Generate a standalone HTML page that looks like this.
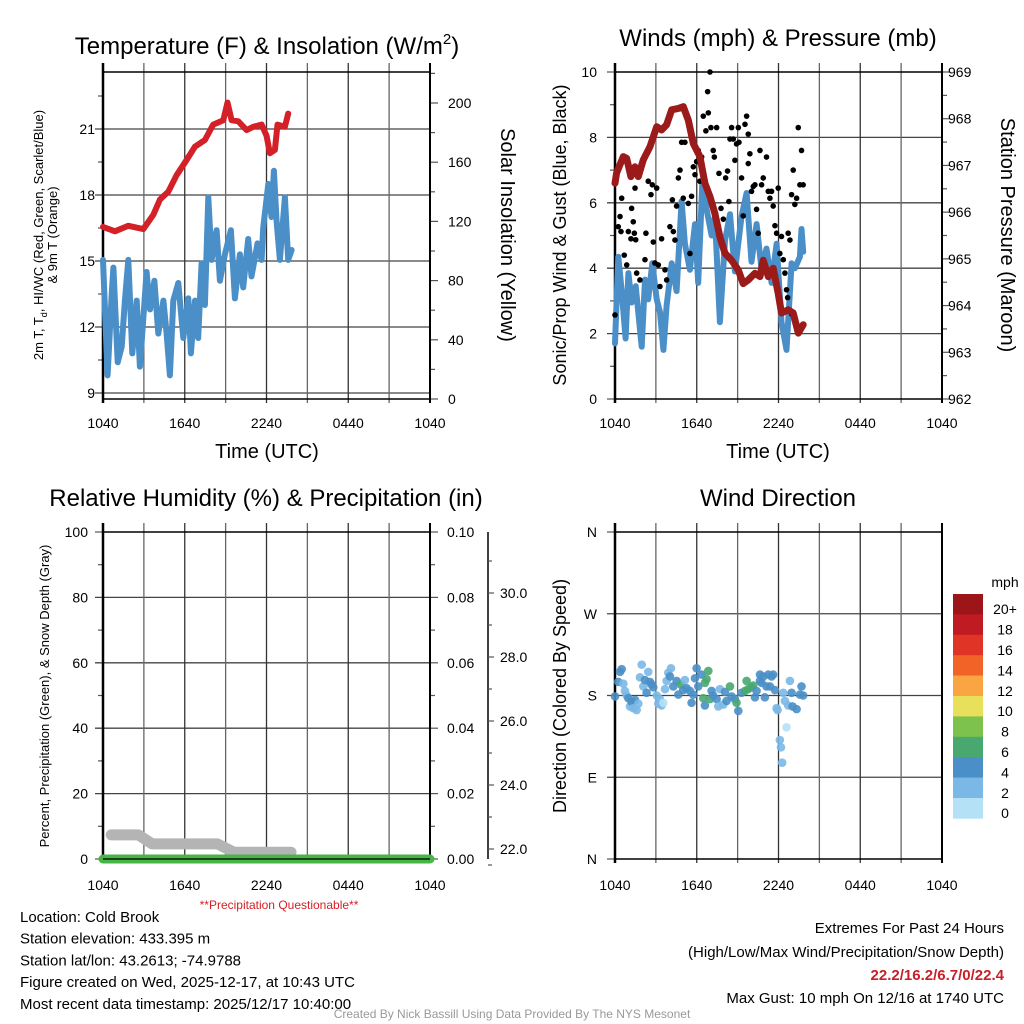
<!DOCTYPE html>
<html><head><meta charset="utf-8">
<style>
html,body{margin:0;padding:0;background:#fff;}
svg{display:block;font-family:"Liberation Sans",Arial,sans-serif;}
</style></head>
<body>
<svg id="c" width="1024" height="1024" viewBox="0 0 1024 1024" xmlns="http://www.w3.org/2000/svg">
<g id="g"></g>
</svg>
<script>
// ---------- DATA ----------
const tempBlueHours=[0,0.34,0.64,0.76,1.08,1.37,1.61,1.86,2.15,2.47,2.71,3.2,3.45,3.77,4.06,4.43,4.67,4.91,5.16,5.53,5.89,6.26,6.45,6.75,6.99,7.24,7.48,7.73,7.97,8.34,8.58,8.95,9.39,9.68,10.05,10.29,10.66,10.9,11.34,11.64,11.76,12.13,12.37,12.54,12.74,12.98,13.35,13.59,13.84];
const tempBlueValues=[15.05,9.8,13.5,14.7,10.4,11.1,13.2,15.05,10.8,13.2,10.2,14.5,12.8,14.1,11.7,13.2,11.7,9.8,13.2,14.0,11.5,13.3,10.8,13.2,11.5,14.9,13.0,17.9,15.05,16.4,14.1,15.3,16.4,13.3,15.3,13.8,16.0,14.3,15.8,15.05,16.5,18.5,17.0,19.1,16.8,15.05,17.9,15.05,15.5];
const tempRedHours=[0,0.88,1.86,2.96,3.69,4.18,4.79,5.4,6.14,6.75,7.48,8.09,8.83,9.14,9.44,9.93,10.54,11.03,11.64,12.0,12.25,12.62,12.81,13.35,13.59];
const tempRedValues=[16.55,16.35,16.6,16.45,17.1,17.8,18.15,18.9,19.6,20.2,20.5,21.2,21.4,22.2,21.4,21.35,20.95,21.1,21.2,20.7,19.9,20.05,21.2,21.1,21.7];
const tempTicks=[9,12,15,18,21];
const solarTicks=[0,40,80,120,160,200];
const timeTickLabels=["1040","1640","2240","0440","1040"];
const windHours=[0,0.24,0.49,0.78,0.98,1.22,1.52,1.96,2.2,2.44,2.74,3.06,3.3,3.55,3.79,4.16,4.52,4.89,5.13,5.5,5.87,6.11,6.41,6.72,7.09,7.33,7.7,8.07,8.44,8.8,9.29,9.66,10.02,10.39,10.76,11.12,11.49,11.86,12.22,12.59,12.96,13.2,13.57,13.69,13.81];
const windValues=[1.7,4.35,3.3,1.85,3.85,2.95,3.45,1.6,3.65,3.05,4.15,3.05,2.65,1.5,2.85,4.15,3.3,6.05,4.75,3.95,5.35,3.55,6.6,5.8,5.0,5.6,2.35,4.85,5.65,3.9,5.6,6.3,4.2,5.35,3.95,4.6,3.55,4.75,2.35,1.5,4.15,4.0,4.35,5.2,4.5];
const gustHours=[0,0.49,0.24,0.37,0.44,0.68,0.86,0.98,1.17,1.22,1.34,1.42,1.52,1.47,1.59,1.83,2.2,2.27,2.44,2.64,2.74,2.81,2.93,3.06,3.18,3.3,3.42,3.67,3.79,4.03,4.21,4.28,4.4,4.52,4.65,4.77,4.89,5.01,5.13,5.38,5.5,5.62,5.75,5.87,5.99,6.11,6.23,6.36,6.48,6.67,6.8,6.85,6.97,7.04,7.21,7.29,7.46,7.63,7.78,7.95,8.12,8.26,8.36,8.44,8.56,8.68,8.8,8.92,9.05,9.1,9.29,9.41,9.54,9.66,9.78,9.78,9.9,10.02,10.15,10.27,10.39,10.51,10.64,10.76,10.88,11.12,11.25,11.37,11.49,11.61,11.74,11.86,11.98,12.1,12.22,12.35,12.47,12.59,12.71,12.84,12.96,13.08,13.2,13.33,13.45,13.57,13.69,13.81,12.67,12.96];
const gustValues=[2.57,6.14,5.27,5.58,5.12,4.4,4.1,5.12,4.9,5.83,5.42,5.07,4.87,6.45,3.85,3.64,4.26,5.07,6.66,6.25,6.55,4.8,4.16,6.45,4.1,3.44,4.9,3.95,3.64,5.27,6.09,5.12,4.86,5.9,6.76,7.0,7.85,6.14,7.85,5.98,4.45,6.2,7.1,6.86,7.26,7.6,6.66,7.4,8.65,8.2,9.4,8.75,10.0,8.3,7.6,7.4,8.3,6.9,5.83,5.5,6.76,6.97,6.04,7.95,8.3,7.95,7.3,7.8,8.3,7.85,6.76,5.6,8.4,8.65,8.1,7.2,7.5,6.35,6.5,6.55,5.8,5.07,7.6,6.55,6.76,7.4,6.35,6.14,6.35,5.9,5.3,5.07,6.45,4.45,4.97,4.26,3.85,3.34,5.07,4.86,6.25,7.0,5.95,6.14,8.3,6.55,7.6,6.55,3.1,2.6];
const pressHours=[0,0.12,0.61,0.86,1.17,1.47,1.71,2.08,2.57,3.06,3.42,3.79,4.16,4.65,5.01,5.38,5.75,6.23,6.6,6.97,7.33,7.7,8.07,8.56,9.05,9.41,9.78,10.27,10.64,10.88,11.25,11.61,11.98,12.22,12.71,13.08,13.45,13.81];
const pressValues=[966.62,966.84,967.19,967.15,966.76,966.97,966.76,967.12,967.4,967.83,967.76,967.87,968.19,968.22,968.26,967.97,967.47,967.19,966.62,966.33,965.97,965.47,965.12,964.97,964.76,964.47,964.55,964.69,964.62,964.97,964.62,964.8,964.26,963.84,963.91,963.84,963.41,963.59];
const windTicks=[0,2,4,6,8,10];
const pressTicks=[962,963,964,965,966,967,968,969];
const rhTicks=[0,20,40,60,80,100];
const precipTicks=["0.00","0.02","0.04","0.06","0.08","0.10"];
const snowTicks=[22,24,26,28,30];
const snowHours=[0.6,2.6,3.6,8.4,9.6,13.8];
const snowValues=[22.44,22.44,22.16,22.16,21.9,21.9];
const precipHours=[0,24];
const precipValues=[0,0];
const dirHours=[0,0.24,0.37,0.49,0.61,0.73,0.86,0.98,1.1,1.22,1.34,1.47,1.59,1.71,1.83,1.96,2.08,2.2,2.32,2.44,2.57,2.69,2.81,3.06,3.18,3.3,3.42,3.55,3.67,3.79,3.91,4.03,4.11,4.28,4.52,4.65,4.84,5.01,5.13,5.26,5.5,5.62,5.75,5.87,5.99,6.11,6.36,6.48,6.6,6.72,6.85,6.97,6.6,7.09,7.21,7.46,7.58,7.7,7.95,8.07,8.19,8.44,8.56,8.8,8.92,9.05,9.29,9.54,9.66,9.78,10.02,10.15,10.27,10.39,10.64,10.64,10.76,10.88,11.0,11.12,11.25,11.37,11.49,11.61,11.74,11.86,11.93,12.1,12.18,12.27,12.35,12.47,12.59,12.71,12.84,12.96,13.03,13.33,13.57,13.69,13.81];
const dirValues=[179,195,206,209,193,185,180,177,168,173,166,175,164,171,200,214,190,197,183,206,195,192,189,180,171,176,169,172,187,196,205,201,210,190,196,181,192,186,197,188,185,172,181,199,210,190,203,177,194,198,207,176,169,185,180,176,168,187,170,184,174,190,179,176,172,163,183,185,196,187,189,191,178,185,196,203,194,201,178,190,203,190,201,203,186,166,164,131,123,106,183,174,145,169,196,183,168,165,181,190,180];
const dirSpeeds=[4.5,4.5,4.5,4.5,2.5,2.5,2.5,4.5,2.5,4.5,2.5,4.5,2.5,2.5,2.5,2.5,2.5,4.5,4.5,2.5,4.5,4.5,4.5,2.5,2.5,2.5,2.5,0.5,2.5,2.5,2.5,4.5,2.5,4.5,4.5,4.5,6.5,4.5,2.5,4.5,4.5,4.5,4.5,4.5,4.5,4.5,4.5,6.5,6.5,6.5,6.5,6.5,4.5,4.5,4.5,4.5,2.5,2.5,2.5,4.5,4.5,6.5,4.5,4.5,6.5,4.5,4.5,6.5,6.5,6.5,6.5,6.5,4.5,4.5,4.5,4.5,4.5,4.5,4.5,4.5,4.5,4.5,4.5,4.5,4.5,2.5,2.5,2.5,2.5,2.5,2.5,2.5,0.5,2.5,2.5,4.5,4.5,4.5,4.5,4.5,4.5];
const speedBins=["20+","18","16","14","12","10","8","6","4","2","0"];
const speedColors=["#9b1519","#c01b22","#e03426","#f26328","#f9a541","#e8e05a","#7dc24d","#48a870","#4a8fc7","#7ab8e5","#b5e1f7"];

// ---------- HELPERS ----------
const NS="http://www.w3.org/2000/svg";
const G=document.getElementById('g');
function mk(tag,attrs,txt){const e=document.createElementNS(NS,tag);for(const k in attrs)e.setAttribute(k,attrs[k]);if(txt!==undefined)e.textContent=txt;G.appendChild(e);return e;}
function lin(d0,d1,r0,r1){return v=>r0+(v-d0)*(r1-r0)/(d1-d0);}

function panelFrame(x0,x1,y0,y1,name){
  const xs=lin(0,24,x0,x1);
  for(let h=3;h<24;h+=3){
    const l=mk('line',{x1:xs(h),x2:xs(h),y1:y0-9,y2:y1+4,stroke:h%6===0?'#333':'#666','stroke-width':1.3});
    
    
  }
  const r=mk('rect',{x:x0,y:y0,width:x1-x0,height:y1-y0,fill:'none',stroke:'#000','stroke-width':1.5});
  
  
  const la=mk('line',{x1:x0,x2:x0,y1:y0-9,y2:y1+4,stroke:'#000','stroke-width':2.5});
  
  
  const ra=mk('line',{x1:x1,x2:x1,y1:y0-9,y2:y1+4,stroke:'#000','stroke-width':2});
  
  
  return xs;
}
function timeLabels(xs,y,name){
  timeTickLabels.forEach((t,i)=>{
    const e=mk('text',{x:xs(i*6),y:y,'font-size':14,'text-anchor':'middle'},t);
    
    
  });
}
function hgrid(x0,x1,y,name){
  const e=mk('line',{x1:x0-8,x2:x1,y1:y,y2:y,stroke:'#444','stroke-width':1.3});
  
  
}
function tick(x1,x2,y,name){
  const e=mk('line',{x1:x1,x2:x2,y1:y,y2:y,stroke:'#555','stroke-width':1.2});
  
  
}
function label(x,y,t,size,anchor,name,extra){
  const a={x:x,y:y,'font-size':size,'text-anchor':anchor||'start'};
  if(extra)for(const k in extra)a[k]=extra[k];
  const e=mk('text',a,t);
  
  
  return e;
}
function polyline(hours,vals,xs,ys,color,w,name){
  const pts=hours.map((h,i)=>xs(h).toFixed(1)+','+ys(vals[i]).toFixed(1)).join(' ');
  const e=mk('polyline',{points:pts,fill:'none',stroke:color,'stroke-width':w,'stroke-linejoin':'round','stroke-linecap':'round'});
  
  
}

// ---------- PANEL 1 ----------
(function(){
  const x0=103,x1=430,y0=72,y1=399;
  const ys=lin(9,21,393,129);
  const ss=lin(0,200,399,103);
  tempTicks.forEach(v=>{hgrid(x0,x1,ys(v),'temp');label(95,ys(v)+5,String(v),14,'end','temp-y-tick-label');});
  [10.5,13.5,16.5,19.5,22.5].forEach(v=>tick(x0-5,x0,ys(v),'temp-minor-tick'));
  solarTicks.forEach(v=>{tick(x1,x1+8,ss(v),'solar-tick');label(448,ss(v)+5,String(v),14,'start','solar-y-tick-label');});
  [20,60,100,140,180,220].forEach(v=>tick(x1,x1+5,ss(v),'solar-minor-tick'));
  const xs=panelFrame(x0,x1,y0,y1,'temp');
  polyline(tempRedHours,tempRedValues,xs,ys,'#d42027',6,'temp-red-line');
  polyline(tempBlueHours,tempBlueValues,xs,ys,'#4a8fc8',6,'temp-blue-line');
  timeLabels(xs,428,'temp');
  label(267,458,'Time (UTC)',20,'middle','temp-x-axis-title');
  const t=label(267,54,'',24,'middle','temp-title');
  t.innerHTML='Temperature (F) &amp; Insolation (W/m<tspan dy="-10" font-size="15">2</tspan><tspan dy="10">)</tspan>';
  const yl=label(0,0,'',13,'middle','temp-y-axis-title',{transform:'translate(43,235) rotate(-90)'});
  yl.innerHTML='2m T, T<tspan dy="4" font-size="9">d</tspan><tspan dy="-4">, HI/WC (Red, Green, Scarlet/Blue)</tspan>';
  label(0,0,'& 9m T (Orange)',13,'middle','temp-y-axis-title-line2',{transform:'translate(57,235) rotate(-90)'});
  label(0,0,'Solar Insolation (Yellow)',20,'middle','solar-y-axis-title',{transform:'translate(501,235) rotate(90)'});
})();

// ---------- PANEL 2 ----------
(function(){
  const x0=615,x1=942,y0=72,y1=399;
  const ys=lin(0,10,399,72);
  const ps=lin(962,969,399,72);
  windTicks.forEach(v=>{if(v>0&&v<10)hgrid(x0,x1,ys(v),'wind');else tick(x0-8,x0,ys(v),'wind-tick');label(597,ys(v)+5,String(v),14,'end','wind-y-tick-label');});
  [1,3,5,7,9].forEach(v=>tick(x0-5,x0,ys(v),'wind-minor-tick'));
  pressTicks.forEach(v=>{tick(x1,x1+8,ps(v),'pressure-tick');label(948,ps(v)+5,String(v),14,'start','pressure-y-tick-label');});
  pressTicks.slice(0,-1).forEach(v=>tick(x1,x1+5,ps(v+0.5),'pressure-minor-tick'));
  const xs=panelFrame(x0,x1,y0,y1,'wind');
  polyline(windHours,windValues,xs,ys,'#4a8fc8',6,'wind-speed-line');
  gustHours.forEach((h,i)=>{
    const c=mk('circle',{cx:xs(h),cy:ys(gustValues[i]),r:2.8,fill:'#000'});
    
    
  });
  polyline(pressHours,pressValues,xs,ps,'#9b1a1a',7,'pressure-line');
  timeLabels(xs,428,'wind');
  label(778,458,'Time (UTC)',20,'middle','wind-x-axis-title');
  label(778,46,'Winds (mph) & Pressure (mb)',24,'middle','wind-title');
  label(0,0,'Sonic/Prop Wind & Gust (Blue, Black)',18,'middle','wind-y-axis-title',{transform:'translate(566,235) rotate(-90)'});
  label(0,0,'Station Pressure (Maroon)',20,'middle','pressure-y-axis-title',{transform:'translate(1001,235) rotate(90)'});
})();

// ---------- PANEL 3 ----------
(function(){
  const x0=103,x1=430,y0=532,y1=859;
  const ys=lin(0,100,859,532);
  const pr=lin(0,0.1,859,532);
  const sn=lin(22,30,849,593);
  rhTicks.forEach(v=>{if(v>0&&v<100)hgrid(x0,x1,ys(v),'rh');else tick(x0-8,x0,ys(v),'rh-tick');label(88,ys(v)+5,String(v),14,'end','rh-y-tick-label');});
  [10,30,50,70,90].forEach(v=>tick(x0-5,x0,ys(v),'rh-minor-tick'));
  precipTicks.forEach((t,i)=>{tick(x1,x1+8,pr(i*0.02),'precip-tick');label(447,pr(i*0.02)+5,t,14,'start','precip-y-tick-label');});
  [0.01,0.03,0.05,0.07,0.09].forEach(v=>tick(x1,x1+5,pr(v),'precip-minor-tick'));
  const sa=mk('line',{x1:488,x2:488,y1:532,y2:859,stroke:'#000','stroke-width':1.5});
  
  
  snowTicks.forEach(v=>{tick(488,494,sn(v),'snow-tick');label(500,sn(v)+5,v.toFixed(1),14,'start','snow-y-tick-label');});
  [21.5,23,25,27,29,31].forEach(v=>tick(488,492,sn(v),'snow-minor-tick'));
  const xs=panelFrame(x0,x1,y0,y1,'rh');
  polyline(snowHours,snowValues,xs,sn,'#b4b4b4',11,'snow-depth-line');
  polyline(precipHours,precipValues,xs,pr,'#46b546',9,'precip-line');
  const bl=mk('line',{x1:x0,x2:x1,y1:y1,y2:y1,stroke:'#000','stroke-width':1.2});
  
  
  timeLabels(xs,890,'rh');
  label(279,909,'**Precipitation Questionable**',12,'middle','precip-warning',{fill:'#d42027'});
  label(266,506,'Relative Humidity (%) & Precipitation (in)',24,'middle','rh-title');
  label(0,0,'Percent, Precipitation (Green), & Snow Depth (Gray)',13,'middle','rh-y-axis-title',{transform:'translate(49,696) rotate(-90)'});
})();

// ---------- PANEL 4 ----------
(function(){
  const x0=615,x1=942,y0=532,y1=859;
  const ds=lin(0,360,859,532);
  ["N","E","S","W","N"].forEach((t,i)=>{
    const y=ds(i*90);
    if(i>0&&i<4)hgrid(x0,x1,y,'dir');else tick(x0-8,x0,y,'dir-tick');
    label(597,y+5,t,14,'end','dir-y-tick-label');
  });
  const xs=panelFrame(x0,x1,y0,y1,'dir');
  function colorFor(s){const idx=Math.min(10,Math.floor(s/2));return speedColors[10-idx];}
  dirHours.forEach((h,i)=>{
    const c=mk('circle',{cx:xs(h),cy:ds(dirValues[i]),r:4.3,fill:colorFor(dirSpeeds[i]),'fill-opacity':0.9});
    
    
  });
  timeLabels(xs,890,'dir');
  label(778,506,'Wind Direction',24,'middle','dir-title');
  label(0,0,'Direction (Colored By Speed)',18,'middle','dir-y-axis-title',{transform:'translate(566,696) rotate(-90)'});
  label(1005,587,'mph',14,'middle','colorbar-title');
  const bh=20.4;
  speedBins.forEach((t,i)=>{
    const r=mk('rect',{x:953,y:594+i*bh,width:30,height:bh+0.3,fill:speedColors[i]});
    
    
    label(1005,594+i*bh+bh/2+10,t,14,'middle','colorbar-label');
  });
})();

// ---------- FOOTER TEXT ----------
["Location: Cold Brook","Station elevation: 433.395 m","Station lat/lon: 43.2613; -74.9788","Figure created on Wed, 2025-12-17, at 10:43 UTC","Most recent data timestamp: 2025/12/17 10:40:00"].forEach((t,i)=>{
  label(20,922+i*21.7,t,15,'start','station-info-line');
});
label(1004,933,'Extremes For Past 24 Hours',15,'end','extremes-title');
label(1004,957,'(High/Low/Max Wind/Precipitation/Snow Depth)',15,'end','extremes-subtitle');
label(1004,980,'22.2/16.2/6.7/0/22.4',15,'end','extremes-values',{fill:'#c8202a','font-weight':'bold'});
label(1004,1003,'Max Gust: 10 mph On 12/16 at 1740 UTC',15,'end','max-gust');
label(512,1018,'Created By Nick Bassill Using Data Provided By The NYS Mesonet',12,'middle','credit',{fill:'#999'});
</script>
</body></html>
